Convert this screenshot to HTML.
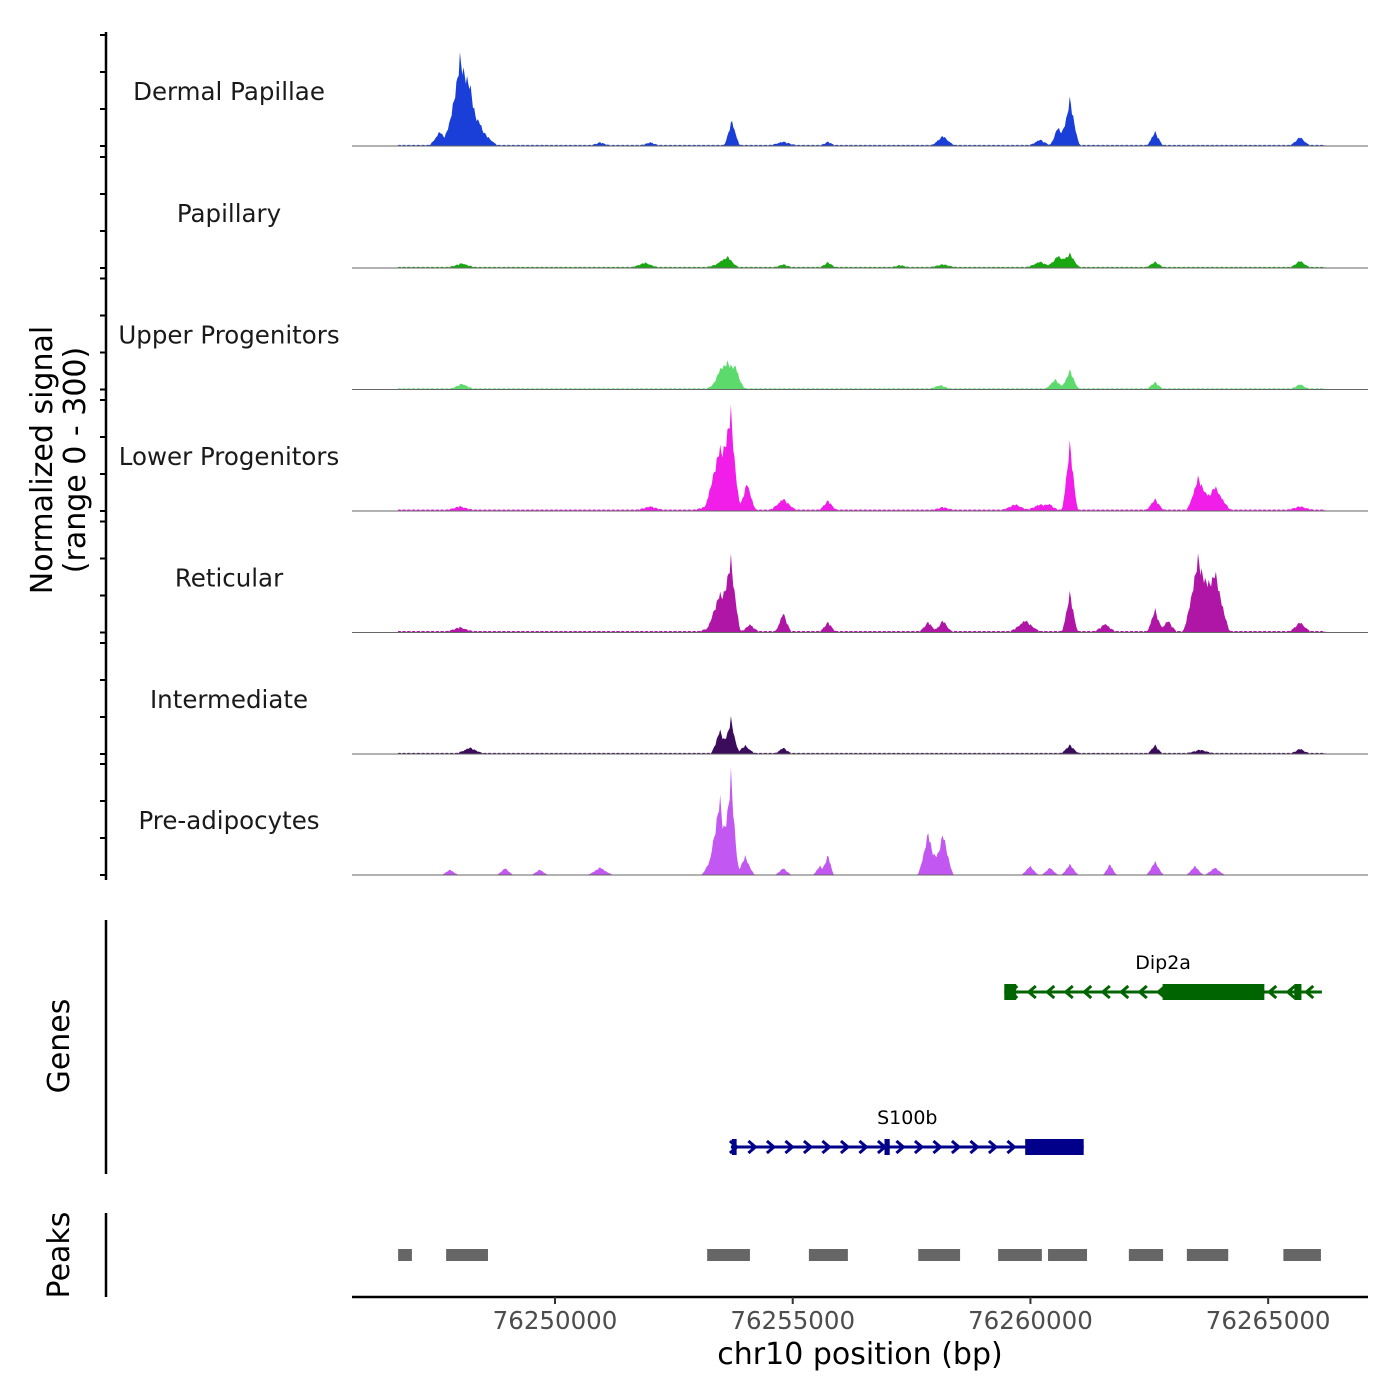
<!DOCTYPE html>
<html><head><meta charset="utf-8"><style>
html,body{margin:0;padding:0;background:#fff;}
svg{display:block;font-family:"DejaVu Sans","Liberation Sans",sans-serif;}
</style></head><body>
<svg id="chart" width="1400" height="1400" viewBox="0 0 1400 1400" xmlns="http://www.w3.org/2000/svg"></svg>
<script>
// ---------- data ----------
const xTicks = [76250000, 76255000, 76260000, 76265000];
const trackNames = ["Dermal Papillae","Papillary","Upper Progenitors","Lower Progenitors","Reticular","Intermediate","Pre-adipocytes"];
const trackColors = ["#1a3fd8","#19a812","#5cdb6c","#f01ee8","#b016a6","#3b0b5c","#c257f2"];
// peaks per track: positions (bp), values (signal 0-300), half widths (bp)
const dermalPos = [76247580,76248000,76248210,76248420,76250950,76252000,76253720,76254800,76255740,76258160,76260200,76260580,76260830,76262620,76265670];
const dermalVal = [40,235,90,50,8,8,72,10,10,27,16,54,135,40,24];
const dermalW   = [120,180,150,200,100,100,90,150,80,130,120,90,110,90,110];
const papPos = [76248040,76251890,76253470,76253640,76254800,76255740,76257260,76258160,76260200,76260580,76260830,76262620,76265670];
const papVal = [11,13,12,27,8,14,6,8,16,34,40,16,19];
const papW   = [150,150,150,120,100,90,100,150,150,120,110,100,110];
const upPos = [76248040,76253470,76253620,76253800,76258100,76260520,76260830,76262620,76265670];
const upVal = [14,30,62,45,10,27,54,19,13];
const upW   = [130,150,160,110,120,110,100,90,100];
const lowPos = [76248000,76252000,76253300,76253470,76253700,76254040,76254800,76255740,76258160,76259680,76260200,76260410,76260830,76262620,76263530,76263880,76265670];
const lowVal = [10,10,16,175,250,80,32,27,8,16,16,14,195,32,95,68,10];
const lowW   = [150,150,200,170,110,100,150,100,120,150,150,100,90,100,130,180,150];
const retPos = [76248000,76253300,76253470,76253700,76254100,76254800,76255740,76257850,76258160,76259890,76260830,76261570,76262620,76262890,76263530,76263880,76265670];
const retVal = [12,14,108,202,20,54,27,27,32,32,113,22,65,32,215,175,27];
const retW   = [150,150,140,110,100,90,90,100,100,170,90,120,90,100,170,170,120];
const intPos = [76248210,76253470,76253700,76254000,76254800,76260830,76262620,76263570,76265670];
const intVal = [16,68,100,22,16,24,24,10,13];
const intW   = [150,100,90,110,90,100,80,150,100];
const prePos = [76247790,76248950,76249680,76250950,76253300,76253470,76253700,76254000,76254800,76255570,76255740,76257850,76258160,76259990,76260410,76260830,76261670,76262620,76263460,76263880];
const preVal = [16,20,16,22,54,216,292,54,20,27,60,122,122,27,22,32,32,40,27,22];
const preW   = [100,100,100,150,120,110,90,110,100,80,70,120,120,100,100,100,80,100,100,120];
const trackPos = [dermalPos,papPos,upPos,lowPos,retPos,intPos,prePos];
const trackVal = [dermalVal,papVal,upVal,lowVal,retVal,intVal,preVal];
const trackW   = [dermalW,papW,upW,lowW,retW,intW,preW];
const backgroundLevel = [3,3,3,4,4,3,0];
const signalStart = 76246700, signalEnd = 76266200;
// genes
const geneNames = ["Dip2a","S100b"];
const geneStrand = [-1, 1];
const geneStart = [76259450, 76253700];
const geneEnd   = [76266130, 76261120];
const geneColors = ["#006400","#00008b"];
const exonGene  = [0,0,0,1,1,1];
const exonStart = [76259450,76262780,76265550,76253720,76256930,76259890];
const exonEnd   = [76259700,76264920,76265700,76253820,76257040,76261120];
// peaks
const peakStart = [76246700,76247710,76253200,76255340,76257640,76259320,76260370,76262070,76263290,76265320];
const peakEnd   = [76246990,76248590,76254100,76256160,76258520,76260240,76261190,76262790,76264160,76266110];

// ---------- scales ----------
const NS="http://www.w3.org/2000/svg";
const svg=document.getElementById('chart');
const X0=352, X1=1368, D0=76245730, D1=76267100;
const xs = v => X0 + (v-D0)/(D1-D0)*(X1-X0);
const baselines=[146,268,389.5,511,632.5,754,875];
const hScale = 111/300;
function mk(tag,attrs,parent){const e=document.createElementNS(NS,tag);for(const k in attrs)e.setAttribute(k,attrs[k]);(parent||svg).appendChild(e);return e;}
function txt(s,attrs,parent){const e=mk('text',attrs,parent);e.textContent=s;return e;}

// ---------- signal tracks ----------
trackNames.forEach((name,i)=>{
  const g=mk('g',{});
  
  
  const b=baselines[i];
  const P=trackPos[i],V=trackVal[i],W=trackW[i];
  let d='M'+xs(signalStart).toFixed(1)+','+b;
  let n=0;
  for(let bp=signalStart;bp<=signalEnd;bp+=25){
    let s=0;
    for(let k=0;k<P.length;k++){
      const t=Math.abs(bp-P[k])/(W[k]*1.9);
      if(t<1) s+=V[k]*Math.pow(1-t,1.3);
    }
    const jag = (n%3===0?0.85:(n%3===1?1:0.93));
    n++;
    s = s*jag + backgroundLevel[i]*(n%4===0?0.3:1);
    d+=' L'+xs(bp).toFixed(1)+','+(b-Math.min(300,s)*hScale).toFixed(1);
  }
  d+=' L'+xs(signalEnd).toFixed(1)+','+b+' Z';
  const p=mk('path',{d:d,fill:trackColors[i],stroke:'none'},g);
  
  
  const bl=mk('line',{x1:X0,x2:X1,y1:b,y2:b,stroke:'#666',"stroke-width":1},g);
  
  
  const lb=txt(name,{x:229,y:b-46,"text-anchor":"middle","font-size":24.5,fill:'#1a1a1a'},g);
  
  
  for(let k=0;k<=3;k++){
    const ty=b-k*37;
    const tk=mk('line',{x1:100,x2:106,y1:ty,y2:ty,stroke:'#000',"stroke-width":2},g);
    
    
  }
});
let ax=mk('line',{x1:106,x2:106,y1:32,y2:880,stroke:'#000',"stroke-width":2.5});


let yt=txt('',{transform:'translate(52,460) rotate(-90)',"text-anchor":"middle","font-size":30,fill:'#000'});


const ts1=mk('tspan',{x:0,dy:0},yt);ts1.textContent='Normalized signal';
const ts2=mk('tspan',{x:0,dy:33},yt);ts2.textContent='(range 0 - 300)';

// ---------- genes ----------
ax=mk('line',{x1:106,x2:106,y1:920,y2:1174,stroke:'#000',"stroke-width":2.5});


let gt=txt('Genes',{transform:'translate(69,1046) rotate(-90)',"text-anchor":"middle","font-size":30,fill:'#000'});


const geneY=[992,1147];
geneNames.forEach((n,i)=>{
  const g=mk('g',{});
  
  
  const y=geneY[i],c=geneColors[i];
  const xa=xs(geneStart[i]),xb=xs(geneEnd[i]);
  mk('line',{x1:xa,x2:xb,y1:y,y2:y,stroke:c,"stroke-width":3},g);
  const dir=geneStrand[i];
  for(let x=xa+6;x<xb-2;x+=18.5){
    const tip=x, back=x-dir*7;
    mk('polyline',{points:`${back},${y-6} ${tip},${y} ${back},${y+6}`,fill:'none',stroke:c,"stroke-width":3},g);
  }
  exonGene.forEach((gi,k)=>{
    if(gi!==i)return;
    const ex=mk('rect',{x:xs(exonStart[k]),y:y-8,width:Math.max(4,xs(exonEnd[k])-xs(exonStart[k])),height:16,fill:c},g);
    
    
  });
  const lbl=txt(n,{x:(xa+xb)/2,y:y-23,"text-anchor":"middle","font-size":19,fill:'#000'},g);
  
  
});

// ---------- peaks ----------
ax=mk('line',{x1:106,x2:106,y1:1213,y2:1297,stroke:'#000',"stroke-width":2.5});


let pt=txt('Peaks',{transform:'translate(69,1255) rotate(-90)',"text-anchor":"middle","font-size":30,fill:'#000'});


peakStart.forEach((s,i)=>{
  const r=mk('rect',{x:xs(s),y:1249,width:xs(peakEnd[i])-xs(s),height:12,fill:'#666'});
  
  
});

// ---------- x axis ----------
ax=mk('line',{x1:X0,x2:X1,y1:1297,y2:1297,stroke:'#000',"stroke-width":2.5});


xTicks.forEach(t=>{
  const tk=mk('line',{x1:xs(t),x2:xs(t),y1:1297,y2:1304,stroke:'#333',"stroke-width":2});
  
  
  const tl=txt(String(t),{x:xs(t),y:1329,"text-anchor":"middle","font-size":24.5,fill:'#4d4d4d'});
  
  
});
let xt=txt('chr10 position (bp)',{x:860,y:1364,"text-anchor":"middle","font-size":30,fill:'#000'});


</script>
</body></html>
